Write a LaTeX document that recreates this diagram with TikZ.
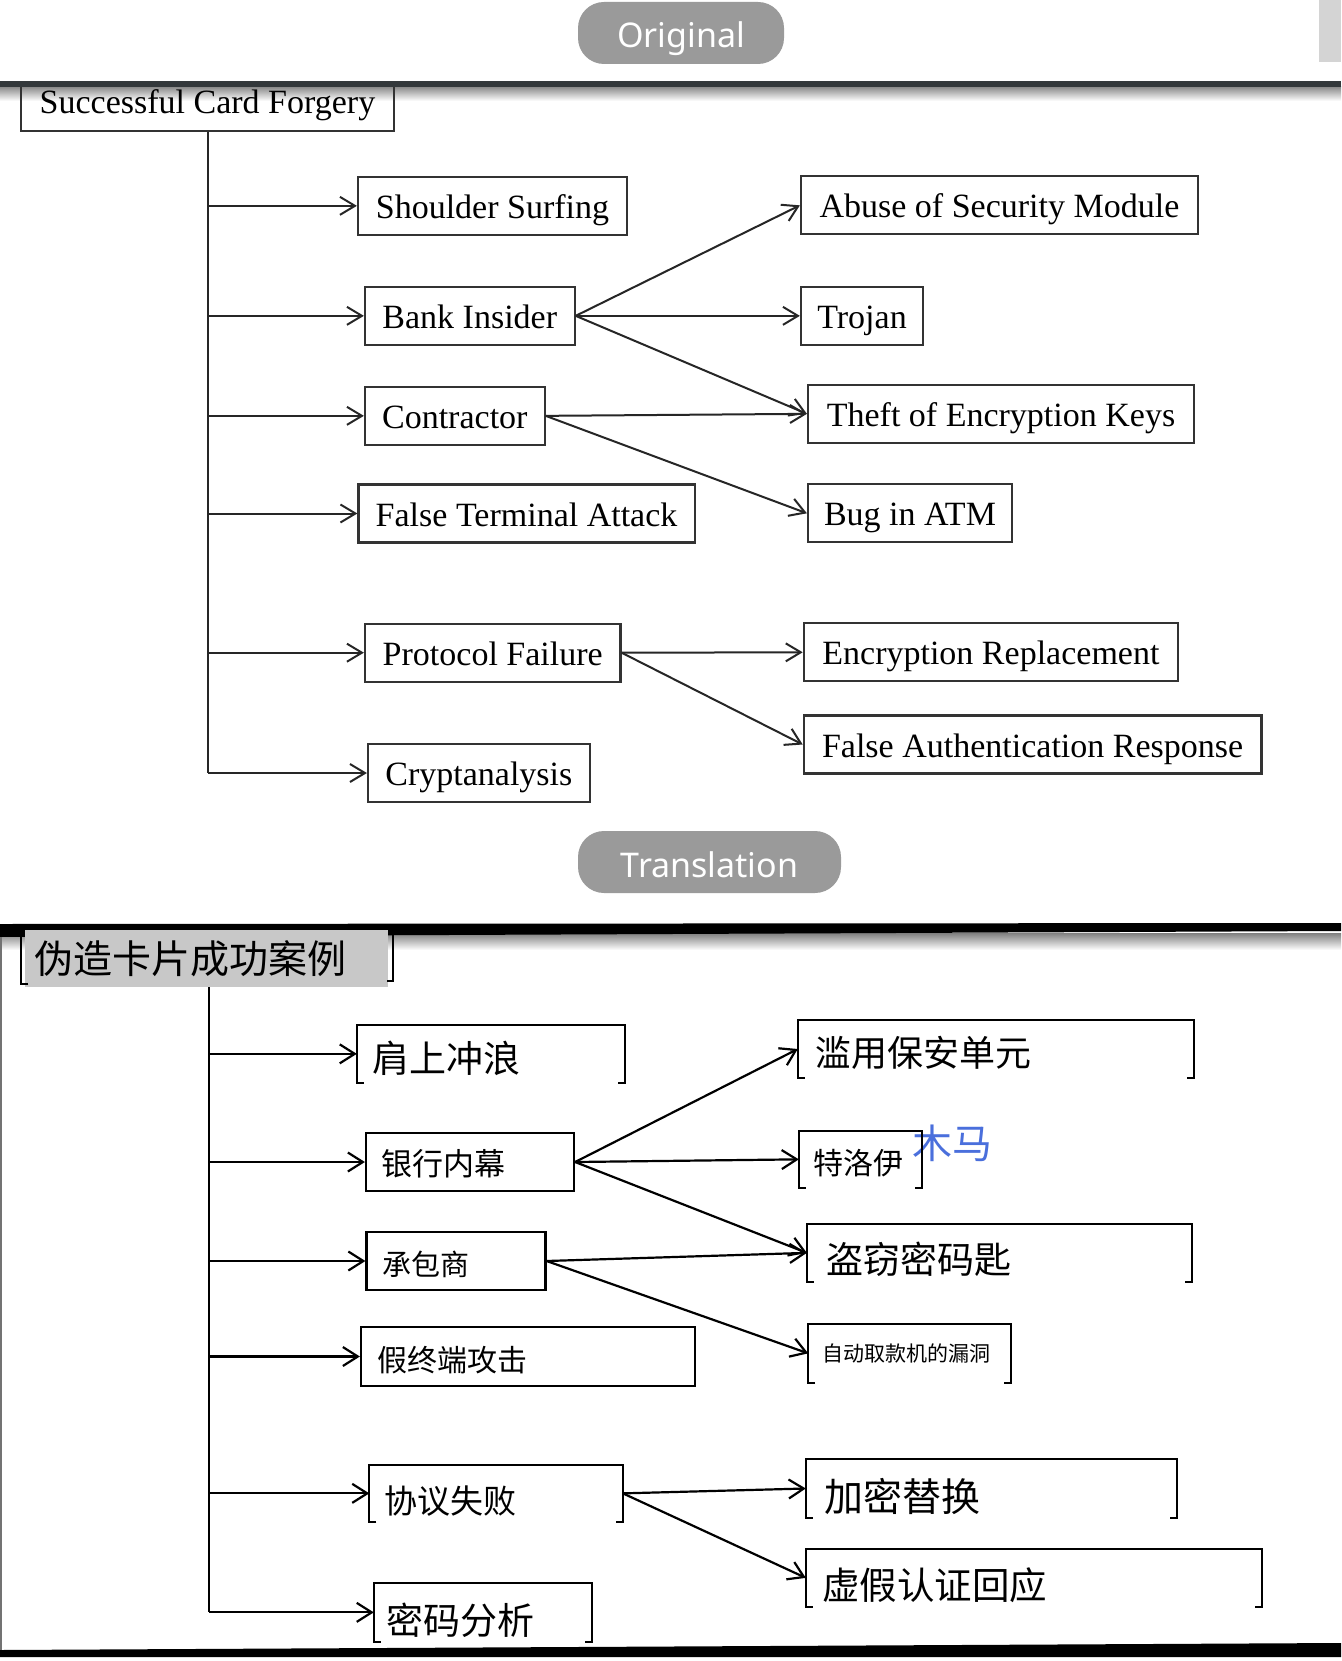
\documentclass[tikz,border=0pt]{standalone}
\usepackage{fontspec}
\setmainfont{Liberation Serif}
\newfontfamily\cjk{Noto Sans CJK SC}
\newfontfamily\pillfont{Noto Sans}
\usetikzlibrary{arrows.meta}
\definecolor{pillgray}{HTML}{9A9A9A}
\definecolor{barcol}{HTML}{33383B}
\definecolor{mublue}{HTML}{4A6FDC}
\definecolor{rootgray}{HTML}{C8C8C8}
\newcommand\brk[1]{\draw[bline] ([xshift=7pt]#1.south west) -- (#1.south west) -- (#1.north west) -- (#1.north east) -- (#1.south east) -- ([xshift=-7pt]#1.south east);}
\begin{document}
\begin{tikzpicture}[x=1pt,y=-1pt,
  pill/.style={fill=pillgray, rounded corners=26pt, text=white, font=\pillfont\fontsize{34}{34}\selectfont, inner sep=0pt, text height=38pt, text depth=8pt},
  enbox/.style={draw=black!80, line width=2.2pt, inner sep=0pt, font=\fontsize{34}{40}\selectfont, minimum height=58pt, text height=30pt, text depth=5pt},
  conn/.style={line width=2pt, draw=black!85, -{Straight Barb[length=15pt,width=18pt]}},
  trunkline/.style={line width=2pt, draw=black!85},
  cnb/.style={inner ysep=0pt, align=left},
  fbox/.style={draw=black, line width=2.2pt},
  bline/.style={line width=2.2pt, draw=black},
  fs/.style={font=\cjk\fontsize{#1}{#1}\selectfont},
  cconn/.style={line width=2.2pt, draw=black, -{Straight Barb[length=15pt,width=19pt]}},
  ctrunk/.style={line width=2.2pt, draw=black}
]
\useasboundingbox (0,0) rectangle (1341,1661);
\fill[white] (0,0) rectangle (1341,1661);

% ---------- header of the original ----------
\fill[black!17] (1319,0) rectangle (1341,62);
\node[pill, minimum width=206pt, minimum height=62pt] (orig) at (681,33) {Original};

\shade[top color=black!45, bottom color=white] (0,87) rectangle (1341,101);
% root box (top hidden under bar)
\node[enbox, minimum width=373pt, minimum height=47pt, text height=20pt, text depth=8.4pt] (root) at (207.5,107.5) {Successful Card Forgery};
\fill[barcol] (0,81.5) rectangle (1341,87);

% ---------- top diagram nodes ----------
\node[enbox, minimum width=269pt] (ss) at (492.5,205.85) {Shoulder Surfing};
\node[enbox, minimum width=209.6pt] (bi) at (469.8,315.85) {Bank Insider};
\node[enbox, minimum width=179.6pt] (co) at (454.8,415.85) {Contractor};
\node[enbox, minimum width=336.1pt] (fta) at (526.55,513.5) {False Terminal Attack};
\node[enbox, minimum width=255.5pt] (pf) at (492.75,652.7) {Protocol Failure};
\node[enbox, minimum width=221.7pt] (cr) at (478.85,773) {Cryptanalysis};
\node[enbox, minimum width=397pt] (asm) at (999.5,205.35) {Abuse of Security Module};
\node[enbox, minimum width=122pt] (tr) at (862,315.85) {Trojan};
\node[enbox, minimum width=386pt] (tek) at (1001,413.85) {Theft of Encryption Keys};
\node[enbox, minimum width=204pt] (bug) at (910,513.3) {Bug in ATM};
\node[enbox, minimum width=374.2pt] (er) at (990.9,652.3) {Encryption Replacement};
\node[enbox, minimum width=457.6pt] (far) at (1032.6,744.5) {False Authentication Response};

% trunk and branches
\draw[trunkline] (root.south) -- (root.south |- cr.west);
\draw[conn] (root.south |- ss.west) -- (ss.west);
\draw[conn] (root.south |- bi.west) -- (bi.west);
\draw[conn] (root.south |- co.west) -- (co.west);
\draw[conn] (root.south |- fta.west) -- (fta.west);
\draw[conn] (root.south |- pf.west) -- (pf.west);
\draw[conn] (root.south |- cr.west) -- (cr.west);
\draw[conn] (bi.east) -- (asm.west);
\draw[conn] (bi.east) -- (tr.west);
\draw[conn] (bi.east) -- (tek.west);
\draw[conn] (co.east) -- (tek.west);
\draw[conn] (co.east) -- (bug.west);
\draw[conn] (pf.east) -- (er.west);
\draw[conn] (pf.east) -- (far.west);

% ---------- translation header ----------
\node[pill, minimum width=263pt, minimum height=62pt] (trans) at (709.5,862) {Translation};
\shade[top color=black!50, bottom color=white] (0,933) rectangle (1341,950);
\fill[black] (0,924) -- (1341,923) -- (1341,931) -- (0,937) -- cycle;
\draw[line width=1.5pt, black!55] (1,937) -- (1,1650);

% root (gray) with bracket
\node[cnb, fill=rootgray, minimum height=57pt, text width=343pt, inner xsep=10pt, fs=39] (cnroot) at (206,958.5) {伪造卡片成功案例};
\draw[bline] ([shift={(4pt,3pt)}]cnroot.south west) -- ([shift={(-3pt,3pt)}]cnroot.south west) -- ([shift={(-3pt,-5pt)}]cnroot.north west);
\draw[bline] ([shift={(5.5pt,-4pt)}]cnroot.north east) -- ([shift={(5.5pt,6pt)}]cnroot.south east) -- ([shift={(-1pt,6pt)}]cnroot.south east);

% left column
\node[cnb, minimum height=57.7pt, text width=238pt, inner xsep=15pt, fs=37, text height=42.6pt, text depth=4.4pt] (c1) at (491,1053.85) {肩上冲浪};
\node[cnb, fbox, minimum height=58pt, text width=178pt, inner xsep=15pt, fs=31, text height=31.3pt, text depth=3.7pt] (c2) at (470,1162) {银行内幕};
\node[cnb, fbox, minimum height=58pt, text width=147pt, inner xsep=16pt, fs=29, text height=31.5pt, text depth=3.5pt] (c3) at (456,1261) {承包商};
\node[cnb, fbox, minimum height=59pt, text width=302pt, inner xsep=16pt, fs=30, text height=33.4pt, text depth=3.6pt] (c4) at (528,1356.5) {假终端攻击};
\node[cnb, minimum height=56.7pt, text width=223.2pt, inner xsep=15pt, fs=33, text height=45pt, text depth=4pt] (c5) at (496.1,1493.35) {协议失败};
\node[cnb, minimum height=58.7pt, text width=194pt, inner xsep=12pt, fs=37, text height=48.6pt, text depth=4.4pt] (c6) at (483,1612.35) {密码分析};
% right column
\node[cnb, minimum height=58pt, text width=361.6pt, inner xsep=17pt, fs=36, text height=39.7pt, text depth=4.3pt] (r1) at (995.8,1049) {滥用保安单元};
\node[cnb, minimum height=56.7pt, text width=94.5pt, inner xsep=14pt, fs=30, text height=34.4pt, text depth=3.6pt] (r2) at (860.25,1159.35) {特洛伊};
\node[cnb, minimum height=57.7pt, text width=346.8pt, inner xsep=19pt, fs=37, text height=46.6pt, text depth=4.4pt] (r3) at (999.4,1252.85) {盗窃密码匙};
\node[cnb, minimum height=58.7pt, text width=174.4pt, inner xsep=14pt, fs=21] (r4) at (909.6,1353.35) {自动取款机的漏洞};
\node[cnb, minimum height=59pt, text width=335pt, inner xsep=18pt, fs=39, text height=50.3pt, text depth=4.7pt] (r5) at (991.5,1488.5) {加密替换};
\node[cnb, minimum height=57.7pt, text width=424pt, inner xsep=16pt, fs=37.5, text height=47pt, text depth=4.5pt] (r6) at (1034,1577.85) {虚假认证回应};
\node[anchor=west, inner sep=0pt, text=mublue, fs=40] (mm) at (912,1143) {木马};

\brk{c1} \brk{c5} \brk{c6} \brk{r1} \brk{r2} \brk{r3} \brk{r4} \brk{r5} \brk{r6}

% trunk and connectors
\coordinate (tk) at (209,987);
\draw[ctrunk] (tk) -- (tk |- c6.west);
\draw[cconn] (tk |- c1.west) -- (c1.west);
\draw[cconn] (tk |- c2.west) -- (c2.west);
\draw[cconn] (tk |- c3.west) -- (c3.west);
\draw[cconn] (tk |- c4.west) -- (c4.west);
\draw[cconn] (tk |- c5.west) -- (c5.west);
\draw[cconn] (tk |- c6.west) -- (c6.west);
\draw[cconn] (c2.east) -- (r1.west);
\draw[cconn] (c2.east) -- (r2.west);
\draw[cconn] (c2.east) -- (r3.west);
\draw[cconn] (c3.east) -- (r3.west);
\draw[cconn] (c3.east) -- (r4.west);
\draw[cconn] (c5.east) -- (r5.west);
\draw[cconn] (c5.east) -- (r6.west);

% bottom bar
\fill[black] (0,1650) -- (1341,1643) -- (1341,1657) -- (0,1657) -- cycle;
\end{tikzpicture}
\end{document}
